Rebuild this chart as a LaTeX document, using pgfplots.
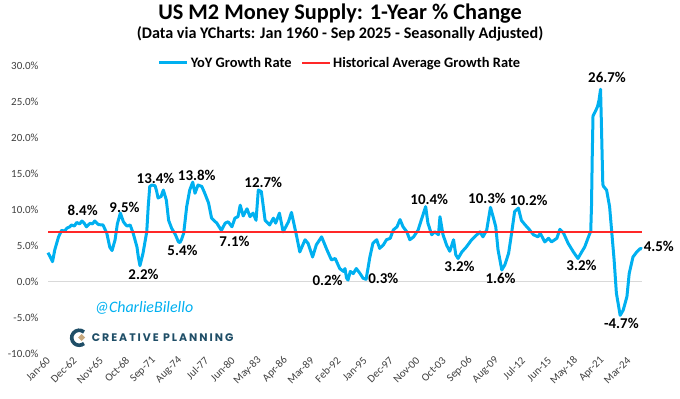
\documentclass[border=0pt]{standalone}
\usepackage{pgfplots}
\pgfplotsset{compat=1.18}
\usepackage{fontspec}
\setmainfont{Carlito}
\newfontfamily\cpfont[LetterSpace=18]{Poppins}
\definecolor{lineblue}{RGB}{0,176,240}
\definecolor{avgred}{RGB}{255,40,40}
\definecolor{zerogray}{RGB}{217,217,217}
\definecolor{ticktext}{RGB}{64,64,64}
\definecolor{cpblue}{RGB}{31,78,103}
\definecolor{cptan}{RGB}{200,169,126}
\begin{document}
\begin{tikzpicture}
\path[use as bounding box] (0,0) rectangle (680bp,399bp);
\node[font=\fontsize{22.4}{25}\selectfont\bfseries] at (340bp,385.5bp) {US M2 Money Supply: 1-Year \% Change};
\node[font=\fontsize{16.2}{18}\selectfont\bfseries] at (340bp,365.5bp) {(Data via YCharts: Jan 1960 - Sep 2025 - Seasonally Adjusted)};
\begin{axis}[
  at={(48bp,45.5bp)}, anchor=south west,
  width=594bp, height=288bp, scale only axis,
  xmin=0, xmax=788, ymin=-10, ymax=30,
  clip=false,
  axis x line=bottom, axis y line=left,
  axis line style={draw=none},
  major tick length=0pt,
  xtick={0,35,...,770},
  xticklabels={Jan-60,Dec-62,Nov-65,Oct-68,Sep-71,Aug-74,Jul-77,Jun-80,May-83,Apr-86,Mar-89,Feb-92,Jan-95,Dec-97,Nov-00,Oct-03,Sep-06,Aug-09,Jul-12,Jun-15,May-18,Apr-21,Mar-24},
  xticklabel style={rotate=45, anchor=east, font=\fontsize{11}{12}\selectfont, text=ticktext, yshift=-4bp},
  ytick={-10,-5,...,30},
  yticklabel={\pgfmathprintnumber[fixed,fixed zerofill,precision=1]{\tick}\%},
  yticklabel style={font=\fontsize{11}{12}\selectfont, text=ticktext, xshift=-6bp, /pgf/number format/assume math mode=true},
  legend style={at={(0.4916,1.0087)}, anchor=center, draw=none, fill=none,
    font=\fontsize{14.5}{16}\selectfont\bfseries, legend columns=2,
    /tikz/every even column/.append style={column sep=8bp}},
  legend image code/.code={\draw[#1] (0bp,0bp) -- (28bp,0bp);},
]
\addplot[draw=zerogray, line width=1.4bp, forget plot] coordinates {(0,0) (788,0)};
\addplot[draw=lineblue, line width=3bp, line join=round] coordinates {
(0,4.0)(3,3.4)(6,2.75)(9,4.4)(14,6.2)(18,7.1)(22,7.0)(25,7.4)(29,7.6)(31,7.85)(35,7.7)(38,8.2)(42,8.0)(45,8.4)(48,8.1)(51,7.6)(56,8.1)(59,8.0)(62,8.4)(67,7.9)(73,7.85)(78,6.7)(82,4.75)(85,4.3)(89,5.8)(92,8.0)(96,9.5)(100,8.3)(103,7.9)(105,7.7)(109,7.85)(113,6.7)(118,4.8)(120,3.3)(122,2.2)(126,3.9)(131,6.9)(133,10.5)(135,13.2)(138,13.4)(142,13.3)(144,12.6)(146,11.6)(150,11.8)(153,12.7)(157,11.3)(160,8.5)(164,7.4)(169,6.5)(173,5.5)(175,5.4)(177,5.8)(180,6.7)(184,10.4)(188,12.7)(192,13.8)(195,12.25)(199,13.4)(204,13.2)(208,12.25)(213,10.9)(217,8.8)(224,8.1)(227,7.6)(230,7.1)(235,8.1)(239,8.3)(244,7.6)(248,8.8)(252,9.0)(255,10.6)(259,9.1)(264,10.1)(268,9.0)(272,9.5)(276,8.5)(279,12.7)(283,12.5)(288,8.5)(294,7.85)(299,8.8)(302,8.1)(307,9.5)(312,6.9)(319,8.3)(323,9.6)(330,6.2)(334,4.1)(341,5.8)(345,5.3)(351,3.4)(356,5.1)(363,6.2)(370,4.4)(376,3.0)(381,3.2)(387,1.8)(392,1.4)(394,1.8)(396,0.5)(398,0.2)(401,1.4)(405,1.1)(409,1.8)(414,1.1)(418,0.45)(422,0.3)(427,3.4)(431,5.3)(436,5.8)(440,4.6)(445,5.1)(449,5.8)(454,6.0)(458,7.15)(463,7.6)(467,8.6)(471,7.6)(476,6.9)(480,5.8)(485,6.2)(491,7.15)(496,8.8)(501,10.4)(504,8.1)(509,6.5)(513,6.9)(518,6.5)(520,9.0)(524,6.5)(529,5.0)(533,4.2)(538,5.8)(541,3.7)(544,3.2)(549,4.1)(555,4.8)(562,5.8)(569,6.5)(573,6.9)(577,6.2)(582,7.15)(587,10.3)(591,8.8)(594,7.6)(597,4.4)(602,1.6)(606,2.3)(611,3.9)(615,6.7)(619,9.7)(624,10.2)(628,8.5)(633,7.85)(637,7.4)(644,6.5)(650,6.2)(653,6.7)(659,5.5)(664,6.0)(668,5.5)(675,6.0)(679,7.25)(684,6.7)(690,5.3)(697,4.1)(703,3.2)(708,4.1)(712,4.8)(717,6.2)(720,7.0)(721,10.5)(722,17.5)(723,23.0)(726,23.6)(729,24.3)(731,25.2)(733,26.7)(734,22.5)(736,13.5)(737,13.2)(741,12.7)(745,10.4)(748,6.7)(751,3.0)(754,-1.6)(759,-4.7)(763,-4.0)(768,-2.1)(771,1.1)(776,3.4)(781,4.1)(786,4.6)(788,4.5)
};
\addlegendentry{YoY Growth Rate}
\addplot[draw=avgred, line width=1.5bp] coordinates {(0,6.9) (788,6.9)};
\addlegendentry{Historical Average Growth Rate}
\begin{scope}[every node/.style={font=\fontsize{15}{17}\selectfont\bfseries}]
\node at (axis cs:46,9.86) {8.4\%};
\node at (axis cs:101.5,10.3) {9.5\%};
\node at (axis cs:126.7,1.04) {2.2\%};
\node at (axis cs:142.6,14.33) {13.4\%};
\node at (axis cs:197.3,14.8) {13.8\%};
\node at (axis cs:178.4,4.28) {5.4\%};
\node at (axis cs:247.4,5.53) {7.1\%};
\node at (axis cs:285.6,13.72) {12.7\%};
\node at (axis cs:370.8,0.11) {0.2\%};
\node at (axis cs:444.8,0.44) {0.3\%};
\node at (axis cs:505.8,11.42) {10.4\%};
\node at (axis cs:545.9,2.06) {3.2\%};
\node at (axis cs:582.4,11.56) {10.3\%};
\node at (axis cs:600.3,0.44) {1.6\%};
\node at (axis cs:637.8,11.22) {10.2\%};
\node at (axis cs:707.7,2.29) {3.2\%};
\node at (axis cs:741.6,28.4) {26.7\%};
\node at (axis cs:760.6,-5.76) {-4.7\%};
\node at (axis cs:810.3,4.83) {4.5\%};
\end{scope}
\end{axis}
\node[font=\fontsize{16}{18}\selectfont\itshape, text=lineblue] at (144bp,91bp) {@CharlieBilello};
\node[anchor=west, font=\cpfont\bfseries\fontsize{11}{12}\selectfont, text=cpblue, inner sep=0pt] at (91.7bp,61.5bp) {CREATIVE PLANNING};
\draw[cpblue, line width=3.6bp] (84bp,67bp) arc[start angle=50, end angle=310, radius=7.5bp];
\fill[cptan] (78bp,61.5bp) -- ++(3.6bp,3.6bp) -- ++(3.6bp,-3.6bp) -- ++(-3.6bp,-3.6bp) -- cycle;
\end{tikzpicture}
\end{document}
